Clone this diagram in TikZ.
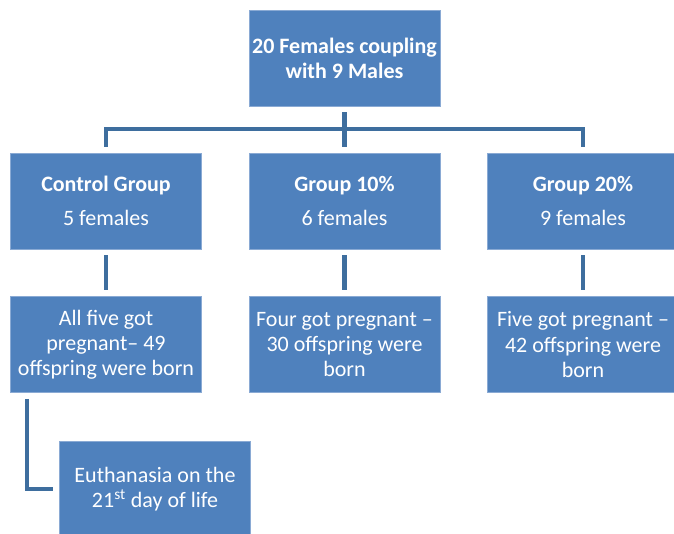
\documentclass[tikz,border=0pt]{standalone}
\usepackage{fontspec}
\setmainfont{Carlito}
\definecolor{boxblue}{HTML}{4F81BD}
\definecolor{boxedge}{HTML}{8AAAD4}
\definecolor{lineblue}{HTML}{3E6E9E}
\begin{document}
\begin{tikzpicture}[x=0.75pt,y=-0.75pt,
  box/.style={rectangle, fill=boxblue, draw=boxedge, line width=0.6pt,
    minimum width=143.25pt, minimum height=72pt, inner sep=0pt,
    text=white, align=center, font=\fontsize{16.5}{18.8}\selectfont},
  conn/.style={draw=lineblue, line width=3.2pt, shorten <=4.5pt, shorten >=4.5pt}]
\useasboundingbox (0,0) rectangle (674,533);
\node[box] (top) at (344.5,58) {\textbf{20 Females coupling}\\\textbf{with 9 Males}};
\node[box] (g1) at (106,201) {\textbf{Control Group}\\[6.5pt]5 females};
\node[box] (g2) at (344.5,201) {\textbf{Group 10\%}\\[6.5pt]6 females};
\node[box] (g3) at (583,201) {\textbf{Group 20\%}\\[6.5pt]9 females};
\node[box] (r1) at (106,344.5) {All five got\\pregnant– 49\\offspring were born};
\node[box] (r2) at (344.5,344.5) {Four got pregnant –\\30 offspring were\\born};
\node[box] (r3) at (583,344.5) {Five got pregnant –\\42 offspring were\\born};
\node[box] (e) at (155,489) {Euthanasia on the\\21\textsuperscript{st} day of life};
\coordinate (bar) at (344.5,129);
\draw[conn, shorten >=0pt] (top.south) -- (top.south |- bar);
\draw[conn] (g1.north) -- (g1.north |- bar) -- (g3.north |- bar) -- (g3.north);
\draw[conn, shorten <=0pt] (top.south |- bar) -- (g2.north);
\draw[conn] (g1.south) -- (r1.north);
\draw[conn] (g2.south) -- (r2.north);
\draw[conn] (g3.south) -- (r3.north);
\draw[conn] ([xshift=12.75pt]r1.south west) |- (e.west);
\end{tikzpicture}
\end{document}
